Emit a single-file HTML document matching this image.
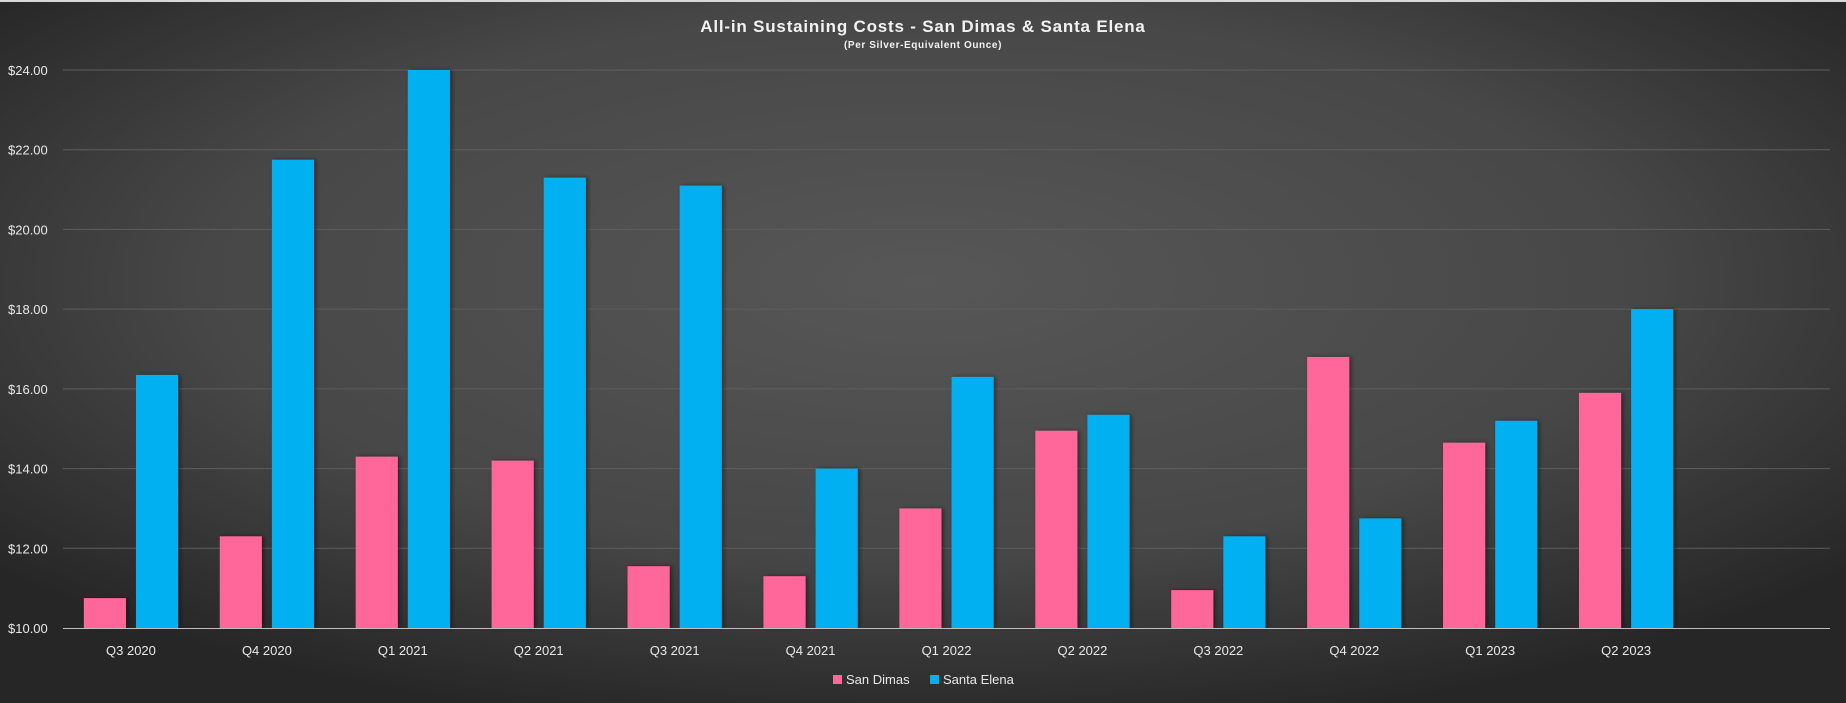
<!DOCTYPE html>
<html><head><meta charset="utf-8"><style>
html,body{margin:0;padding:0;background:#2a2a2a}
svg{display:block}
text{font-family:"Liberation Sans","DejaVu Sans",sans-serif}
</style></head><body>
<svg id="chart" width="1846" height="703" xmlns="http://www.w3.org/2000/svg">
<defs>
<radialGradient id="bg" cx="50%" cy="40%" r="65%">
<stop offset="0" stop-color="#575757"/><stop offset="0.6" stop-color="#474747"/><stop offset="1" stop-color="#262626"/>
</radialGradient>
<filter id="sh" x="-20%" y="-5%" width="150%" height="110%"><feDropShadow dx="2" dy="0" stdDeviation="2" flood-color="#000" flood-opacity="0.45"/></filter>
</defs>
<rect x="0" y="0" width="1846" height="703" fill="url(#bg)"/>
<rect x="0" y="0" width="1846" height="2" fill="#d8d8d8"/>
<text x="923" y="32" text-anchor="middle" font-size="17" font-weight="bold" fill="#f2f2f2" letter-spacing="0.8">All-in Sustaining Costs - San Dimas &amp; Santa Elena</text>
<text x="923" y="48" text-anchor="middle" font-size="10" font-weight="bold" fill="#f2f2f2" letter-spacing="0.6">(Per Silver-Equivalent Ounce)</text>
<g id="grid"></g><g id="bars"></g><g id="axes"></g>
<g>
<rect x="833" y="675" width="9" height="9" fill="#ff6699"/>
<text x="846" y="684" font-size="13" fill="#e8e8e8">San Dimas</text>
<rect x="930" y="675" width="9" height="9" fill="#00b0f0"/>
<text x="943" y="684" font-size="13" fill="#e8e8e8">Santa Elena</text>
</g>
</svg>
<script>
const categories=["Q3 2020","Q4 2020","Q1 2021","Q2 2021","Q3 2021","Q4 2021","Q1 2022","Q2 2022","Q3 2022","Q4 2022","Q1 2023","Q2 2023",""];
const sanDimas=[10.75,12.3,14.3,14.2,11.55,11.3,13.0,14.95,10.95,16.8,14.65,15.9,null];
const santaElena=[16.35,21.75,24.0,21.3,21.1,14.0,16.3,15.35,12.3,12.75,15.2,18.0,null];
const yTicks=[10,12,14,16,18,20,22,24];
const tickLabels=["$10.00","$12.00","$14.00","$16.00","$18.00","$20.00","$22.00","$24.00"];
const NS="http://www.w3.org/2000/svg";
const L=63,R=1830,T=70,B=628,yMin=10,yMax=24;
const y=v=>B-(v-yMin)/(yMax-yMin)*(B-T);
const step=(R-L)/categories.length;
const cx=i=>L+step*(i+0.5);
function mk(tag,attrs,parent){const e=document.createElementNS(NS,tag);for(const k in attrs)e.setAttribute(k,attrs[k]);parent.appendChild(e);return e;}
const grid=document.getElementById('grid'),bars=document.getElementById('bars'),axes=document.getElementById('axes');
yTicks.forEach((t,i)=>{
 if(i>0){const g=mk('line',{x1:L,x2:R,y1:y(t),y2:y(t),stroke:'#5e5e5e','stroke-width':1},grid);
 
 }
 const tx=mk('text',{x:8,y:y(t)+5,'font-size':13,fill:'#e8e8e8'},axes);
 tx.textContent=tickLabels[i];
 
 
});
const bw=step*0.31;
categories.forEach((c,i)=>{
 if(sanDimas[i]!=null){const r=mk('rect',{x:cx(i)-bw-5,y:y(sanDimas[i]),width:bw,height:B-y(sanDimas[i]),fill:'#ff6699',filter:'url(#sh)'},bars);
 
 }
 if(santaElena[i]!=null){const r=mk('rect',{x:cx(i)+5,y:y(santaElena[i]),width:bw,height:B-y(santaElena[i]),fill:'#00b0f0',filter:'url(#sh)'},bars);
 
 }
 if(c){const tx=mk('text',{x:cx(i),y:655,'text-anchor':'middle','font-size':13,fill:'#e8e8e8'},axes);
 tx.textContent=c;
 
 }
});
const ax=mk('line',{x1:L,x2:R,y1:B+0.5,y2:B+0.5,stroke:'#bfbfbf','stroke-width':1},axes);


</script>
</body></html>
